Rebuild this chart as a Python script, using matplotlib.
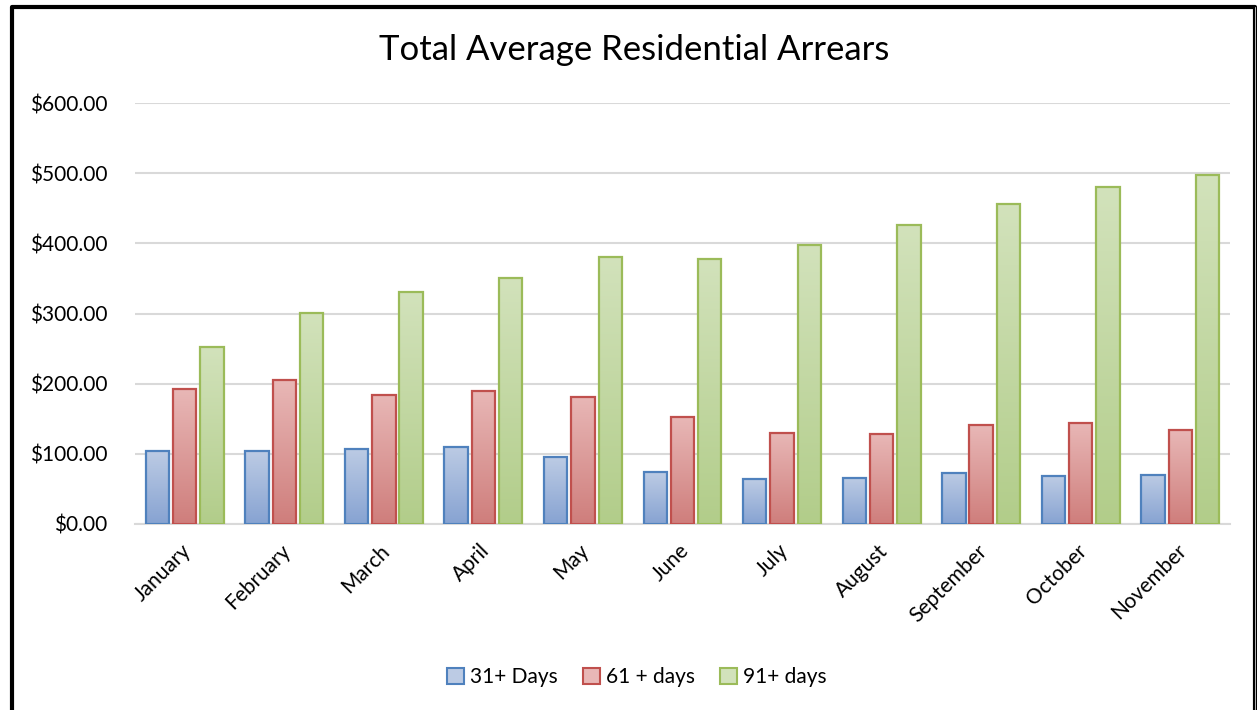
import matplotlib.pyplot as plt
import matplotlib.patches as mpatches
import matplotlib.lines as mlines
import matplotlib.transforms as mtransforms
import numpy as np
from matplotlib.colors import LinearSegmentedColormap
from matplotlib.ticker import FuncFormatter

months = ["January", "February", "March", "April", "May", "June",
          "July", "August", "September", "October", "November"]
days_31 = [104, 104, 107, 110, 95, 74, 64, 66, 73, 68, 70]
days_61 = [192, 205, 184, 190, 181, 152, 130, 128, 141, 144, 134]
days_91 = [252, 301, 331, 351, 381, 378, 398, 426, 456, 480, 497]
series_names = ["31+ Days", "61 + days", "91+ days"]

plt.rcParams['font.family'] = ['Lato', 'DejaVu Sans']

fig = plt.figure(figsize=(12.57, 7.10), dpi=100)
ax = fig.add_axes([135 / 1257, 1 - 524 / 710, 1095 / 1257, 421 / 710])

styles = [("#4f81bd", "#bccbe4", "#87a3d2"),
          ("#c0504d", "#e8b7b6", "#cf7e7c"),
          ("#9bbb59", "#d2e2bb", "#b2cd8a")]

x = np.arange(len(months))
width = 0.235
step = 0.274
handles = []
for i, (vals, (edge, top, bottom)) in enumerate(zip([days_31, days_61, days_91], styles)):
    cmap = LinearSegmentedColormap.from_list("g%d" % i, [bottom, top])
    bars = ax.bar(x + (i - 1) * step, vals, width, color="none", edgecolor=edge,
                  linewidth=1.6, zorder=3)
    for b in bars:
        x0, y0 = b.get_x(), b.get_y()
        h = b.get_height()
        grad = np.linspace(0, 1, 100).reshape(-1, 1)
        im = ax.imshow(grad, extent=[x0, x0 + b.get_width(), y0, y0 + h],
                       origin="lower", aspect="auto", cmap=cmap, zorder=2)
        im.set_clip_path(b)
    handles.append(mpatches.Patch(facecolor=top, edgecolor=edge, linewidth=1.5,
                                  label=series_names[i]))

ax.set_xlim(-0.5, len(months) - 0.5)
ax.set_ylim(0, 600)
ax.set_yticks(range(0, 601, 100))
ax.yaxis.set_major_formatter(FuncFormatter(lambda v, p: "${:,.2f}".format(v)))
ax.grid(axis="y", color="#d9d9d9", linewidth=1.5, zorder=0)
for s in ax.spines.values():
    s.set_visible(False)
ax.spines["bottom"].set_visible(True)
ax.spines["bottom"].set_color("#d9d9d9")
ax.spines["bottom"].set_linewidth(1.5)
ax.tick_params(axis="y", length=0, labelsize=15, pad=20)
ax.tick_params(axis="x", length=0, labelsize=15, pad=12)
ax.set_xticks(x)
ax.set_xticklabels(months, rotation=45, ha="right", rotation_mode="anchor")
shift = mtransforms.ScaledTranslation(-4 / 100, 0, fig.dpi_scale_trans)
for lbl in ax.get_xticklabels():
    lbl.set_transform(lbl.get_transform() + shift)

fig.text(634 / 1257, 1 - 50 / 710, "Total Average Residential Arrears",
         ha="center", va="center", fontsize=25)

fig.legend(handles=handles, loc="center", bbox_to_anchor=(637 / 1257, 1 - 677 / 710),
           ncol=3, frameon=False, fontsize=15, handlelength=0.8, handleheight=0.8,
           handletextpad=0.3, columnspacing=1.2)

# outer frame of the chart
fig.add_artist(mlines.Line2D([11.5 / 1257, 11.5 / 1257, 1255 / 1257, 1255 / 1257],
                             [0, 1 - 7 / 710, 1 - 7 / 710, 0],
                             transform=fig.transFigure, color="black", linewidth=3))
fig.add_artist(mlines.Line2D([1255 / 1257, 1255 / 1257], [0, 1 - 7 / 710],
                             transform=fig.transFigure, color="white", linewidth=0.5))

fig.savefig("out.png", dpi=100)
